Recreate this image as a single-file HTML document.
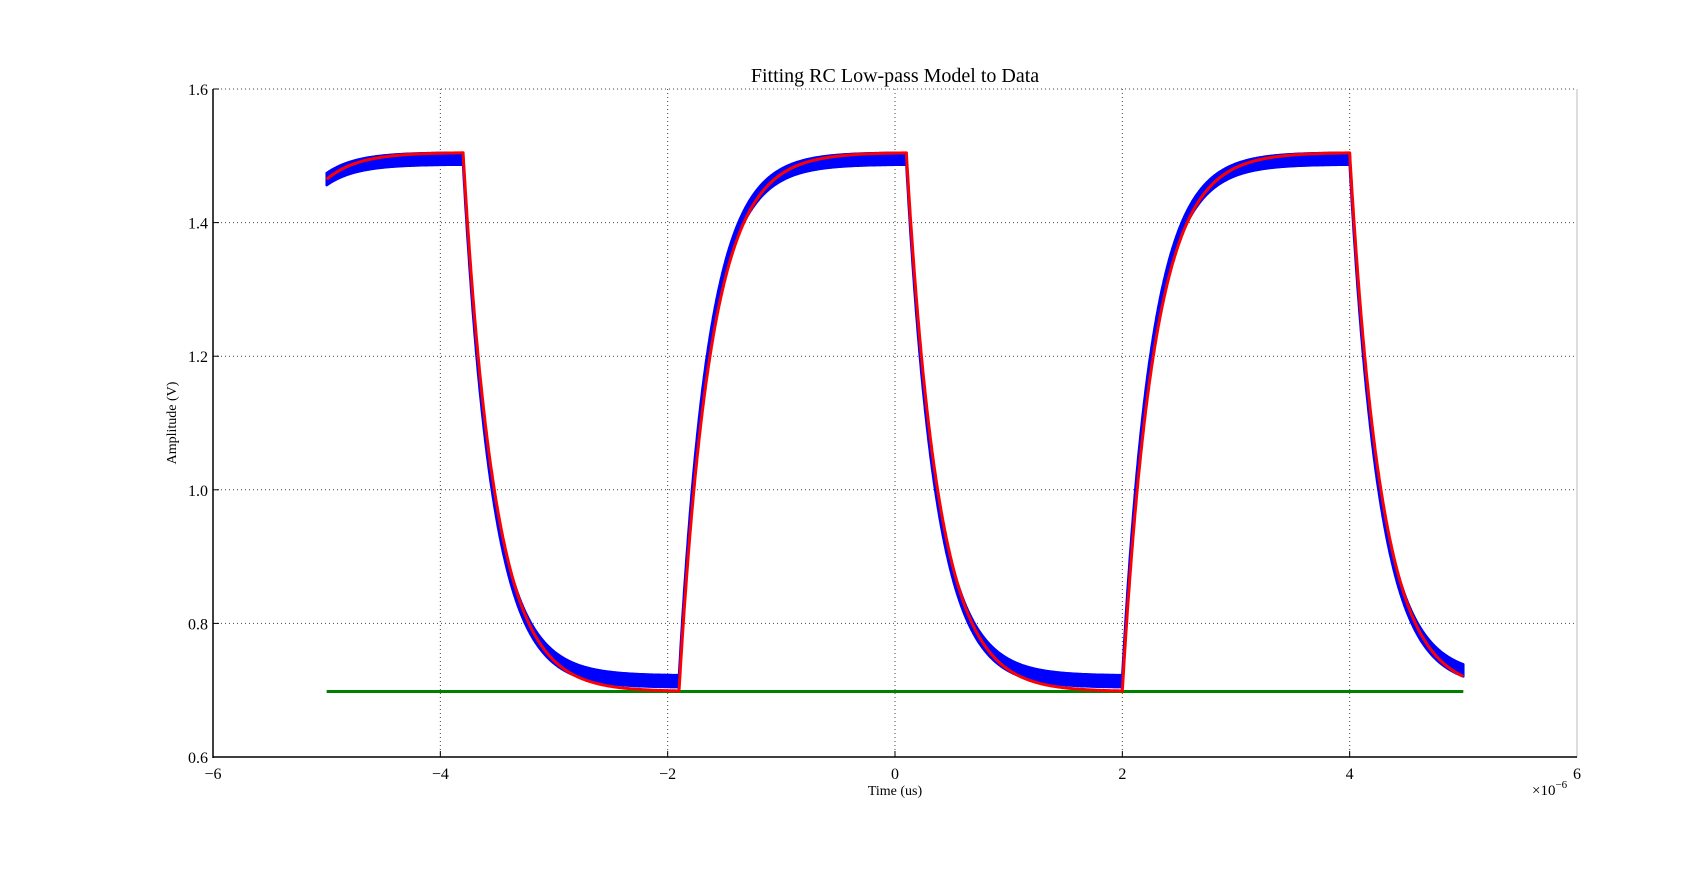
<!DOCTYPE html>
<html><head><meta charset="utf-8"><style>
html,body{margin:0;padding:0;background:#fff;}
svg{display:block;font-family:"Liberation Serif",serif;}
</style></head><body>
<svg id="chart" width="1705" height="891" viewBox="0 0 1705 891" xmlns="http://www.w3.org/2000/svg">
<rect width="1705" height="891" fill="#fff"/>
<g id="grid"></g>
<g id="series"></g>
<g id="axes"></g>
<text x="895" y="82" text-anchor="middle" font-size="20">Fitting RC Low-pass Model to Data</text>
<text x="895" y="795" text-anchor="middle" font-size="14">Time (us)</text>
<text transform="translate(176,423) rotate(-90)" text-anchor="middle" font-size="14">Amplitude (V)</text>
<text x="1532" y="795" font-size="15">×10<tspan dy="-7" font-size="11">−6</tspan></text>
</svg>
<script>
const xTicks=[-6,-4,-2,0,2,4,6];
const xTickLabels=["−6","−4","−2","0","2","4","6"];
const yTicks=[0.6,0.8,1.0,1.2,1.4,1.6];
const yTickLabels=["0.6","0.8","1.0","1.2","1.4","1.6"];
const edgeTimes=[-5.84,-3.8,-1.9,0.1,2.0,4.0];
const edgeDirs=[1,0,1,0,1,0];
const modelLevels=[0.698,1.505];
const modelTau=[0.28];
const dataLevels=[0.713,1.496];
const dataTau=[0.26];
const noiseAmp=[0.009];
const tRange=[-5,5];
const greenLevel=[0.698];

const L=213,R=1577,T=89,B=757;
const X=t=>L+(t+6)/12*(R-L);
const Y=v=>B-(v-0.6)/1.0*(B-T);
const NS="http://www.w3.org/2000/svg";
function mk(tag,attrs,parent){const e=document.createElementNS(NS,tag);for(const k in attrs)e.setAttribute(k,attrs[k]);parent.appendChild(e);return e;}
function model(t,levels,tau){
  let v=edgeDirs[0]?levels[0]:levels[1];
  for(let i=0;i<edgeTimes.length;i++){
    if(t<edgeTimes[i])break;
    const target=edgeDirs[i]?levels[1]:levels[0];
    const start=v;
    const nextT=i+1<edgeTimes.length?edgeTimes[i+1]:1e9;
    const tt=Math.min(t,nextT)-edgeTimes[i];
    v=target+(start-target)*Math.exp(-tt/tau);
    if(t<nextT)return v;
  }
  return v;
}
const grid=document.getElementById('grid'),axes=document.getElementById('axes'),ser=document.getElementById('series');
xTicks.forEach((t,i)=>{
  if(i>0&&i<xTicks.length-1){const g=mk('line',{x1:X(t),x2:X(t),y1:T,y2:B,stroke:'#444','stroke-width':1,'stroke-dasharray':'1,3'},grid);
  }
  const tk=mk('line',{x1:X(t),x2:X(t),y1:B,y2:B-6,stroke:'#000'},axes);
  
  const lb=mk('text',{x:X(t),y:B+22,'text-anchor':'middle','font-size':16},axes);lb.textContent=xTickLabels[i];
  
});
yTicks.forEach((v,i)=>{
  if(i>0){const g=mk('line',{x1:L,x2:R,y1:Y(v),y2:Y(v),stroke:'#444','stroke-width':1,'stroke-dasharray':'1,3'},grid);
  }
  const tk=mk('line',{x1:L,x2:L+6,y1:Y(v),y2:Y(v),stroke:'#000'},axes);
  
  const lb=mk('text',{x:L-5,y:Y(v)+6,'text-anchor':'end','font-size':16},axes);lb.textContent=yTickLabels[i];
  
});
const rs=mk('line',{x1:R,x2:R,y1:T,y2:B,stroke:'#bbb','stroke-width':1},axes);

const ls=mk('line',{x1:L,x2:L,y1:T,y2:B+1,stroke:'#000','stroke-width':1.5},axes);

const bs=mk('line',{x1:L,x2:R,y1:B,y2:B,stroke:'#000','stroke-width':1.5},axes);


const N=2000;const ts=[];for(let i=0;i<=N;i++)ts.push(tRange[0]+(tRange[1]-tRange[0])*i/N);
let up=[],lo=[];
ts.forEach(t=>{const v=model(t,dataLevels,dataTau[0]);up.push(X(t).toFixed(1)+','+Y(v+noiseAmp[0]).toFixed(1));lo.push(X(t).toFixed(1)+','+Y(v-noiseAmp[0]).toFixed(1));});
const band=mk('polygon',{points:up.concat(lo.reverse()).join(' '),fill:'#0000ff',stroke:'#0000ff','stroke-width':2.5,'stroke-linejoin':'round'},ser);

const gl=mk('line',{x1:X(tRange[0]),x2:X(tRange[1]),y1:Y(greenLevel[0]),y2:Y(greenLevel[0]),stroke:'#008000','stroke-width':3},ser);

const rp=ts.map(t=>X(t).toFixed(1)+','+Y(model(t,modelLevels,modelTau[0])).toFixed(1)).join(' ');
const rl=mk('polyline',{points:rp,fill:'none',stroke:'#ff0000','stroke-width':3,'stroke-linejoin':'round'},ser);

</script>
</body></html>
